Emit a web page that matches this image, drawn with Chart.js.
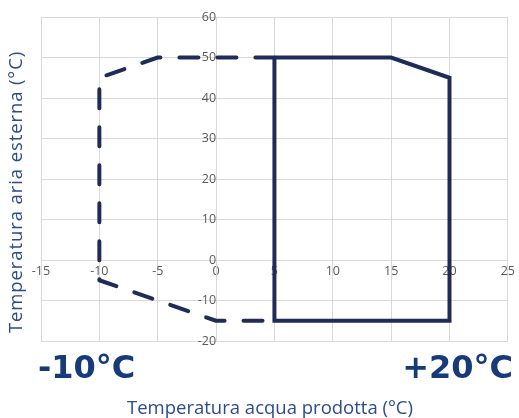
<!DOCTYPE html>
<html>
<head>
<meta charset="utf-8">
<script src="https://cdn.jsdelivr.net/npm/chart.js@4"></script>
<style>
  body { margin: 0; background: #fff; }
  #wrap { width: 519px; height: 418px; position: relative; }
</style>
</head>
<body>
<div id="wrap"><canvas id="chartCanvas"></canvas></div>
<script>
// Operating envelope (water temp x, outdoor air temp y)
const solidX = [5, 15, 20, 20, 5, 5];
const solidY = [50, 50, 45, -15, -15, 50];
// extended range, dashed
const dashX = [5, -5, -10, -10, 0, 5];
const dashY = [50, 50, 45, -5, -15, -15];

const xTicks = [-15, -10, -5, 0, 5, 10, 15, 20, 25];
const yTicks = [-20, -10, 0, 10, 20, 30, 40, 50, 60];

const yTitle = 'Temperatura aria esterna (°C)';
const xTitle = 'Temperatura acqua prodotta (°C)';
const minLabel = '-10°C';
const maxLabel = '+20°C';

const navy = '#1f2b58';
const gridGray = '#d9d9d9';

// titles and the two big range labels
const extraText = {
  id: 'extraText',
  afterDraw(chart) {
    const c = chart.ctx;
    c.save();
    c.fillStyle = '#2b4c8c';
    c.font = '18.5px "Open Sans"';
    c.textAlign = 'center';
    c.textBaseline = 'middle';
    c.fillText(xTitle, 270, 409);
    c.translate(17, 192);
    c.rotate(-Math.PI / 2);
    c.letterSpacing = '0.9px';
    c.fillText(yTitle, 0, 0);
    c.restore();

    c.save();
    c.fillStyle = '#173a7b';
    c.font = 'bold 32px "DejaVu Sans"';
    c.textBaseline = 'alphabetic';
    c.textAlign = 'left';
    c.fillText(minLabel, 38, 378);
    c.textAlign = 'right';
    c.fillText(maxLabel, 513, 378);
    c.restore();
  }
};

const ctx = document.getElementById('chartCanvas').getContext('2d');

new Chart(ctx, {
  type: 'scatter',
  data: {
    datasets: [
      {
        data: solidX.map((x, i) => ({ x: x, y: solidY[i] })),
        showLine: true,
        borderColor: navy,
        borderWidth: 4,
        borderJoinStyle: 'miter',
        pointRadius: 0,
        fill: false
      },
      {
        data: dashX.map((x, i) => ({ x: x, y: dashY[i] })),
        showLine: true,
        borderColor: navy,
        borderWidth: 4,
        borderDash: [19, 19],
        borderCapStyle: 'round',
        borderJoinStyle: 'round',
        pointRadius: 0,
        fill: false
      }
    ]
  },
  options: {
    responsive: true,
    maintainAspectRatio: false,
    animation: false,
    layout: { padding: { left: 41, top: 17, right: 10, bottom: 77 } },
    plugins: {
      legend: { display: false },
      tooltip: { enabled: false }
    },
    scales: {
      x: {
        type: 'linear',
        min: -15,
        max: 25,
        position: { y: 0 },
        afterFit(s) { s.height = 0; },
        afterBuildTicks(s) { s.ticks = xTicks.map(v => ({ value: v })); },
        grid: { color: gridGray, drawTicks: false },
        border: { color: gridGray },
        ticks: {
          color: '#595959',
          font: { family: 'Open Sans', size: 12.5 },
          padding: 4,
          autoSkip: false,
          maxRotation: 0
        }
      },
      y: {
        type: 'linear',
        min: -20,
        max: 60,
        position: { x: 0 },
        afterFit(s) { s.width = 0; },
        afterBuildTicks(s) { s.ticks = yTicks.map(v => ({ value: v })); },
        grid: { color: gridGray, drawTicks: false },
        border: { color: gridGray },
        ticks: {
          color: '#595959',
          font: { family: 'Open Sans', size: 12.5 },
          padding: 5,
          autoSkip: false
        }
      }
    }
  },
  plugins: [extraText]
});
</script>
</body>
</html>
